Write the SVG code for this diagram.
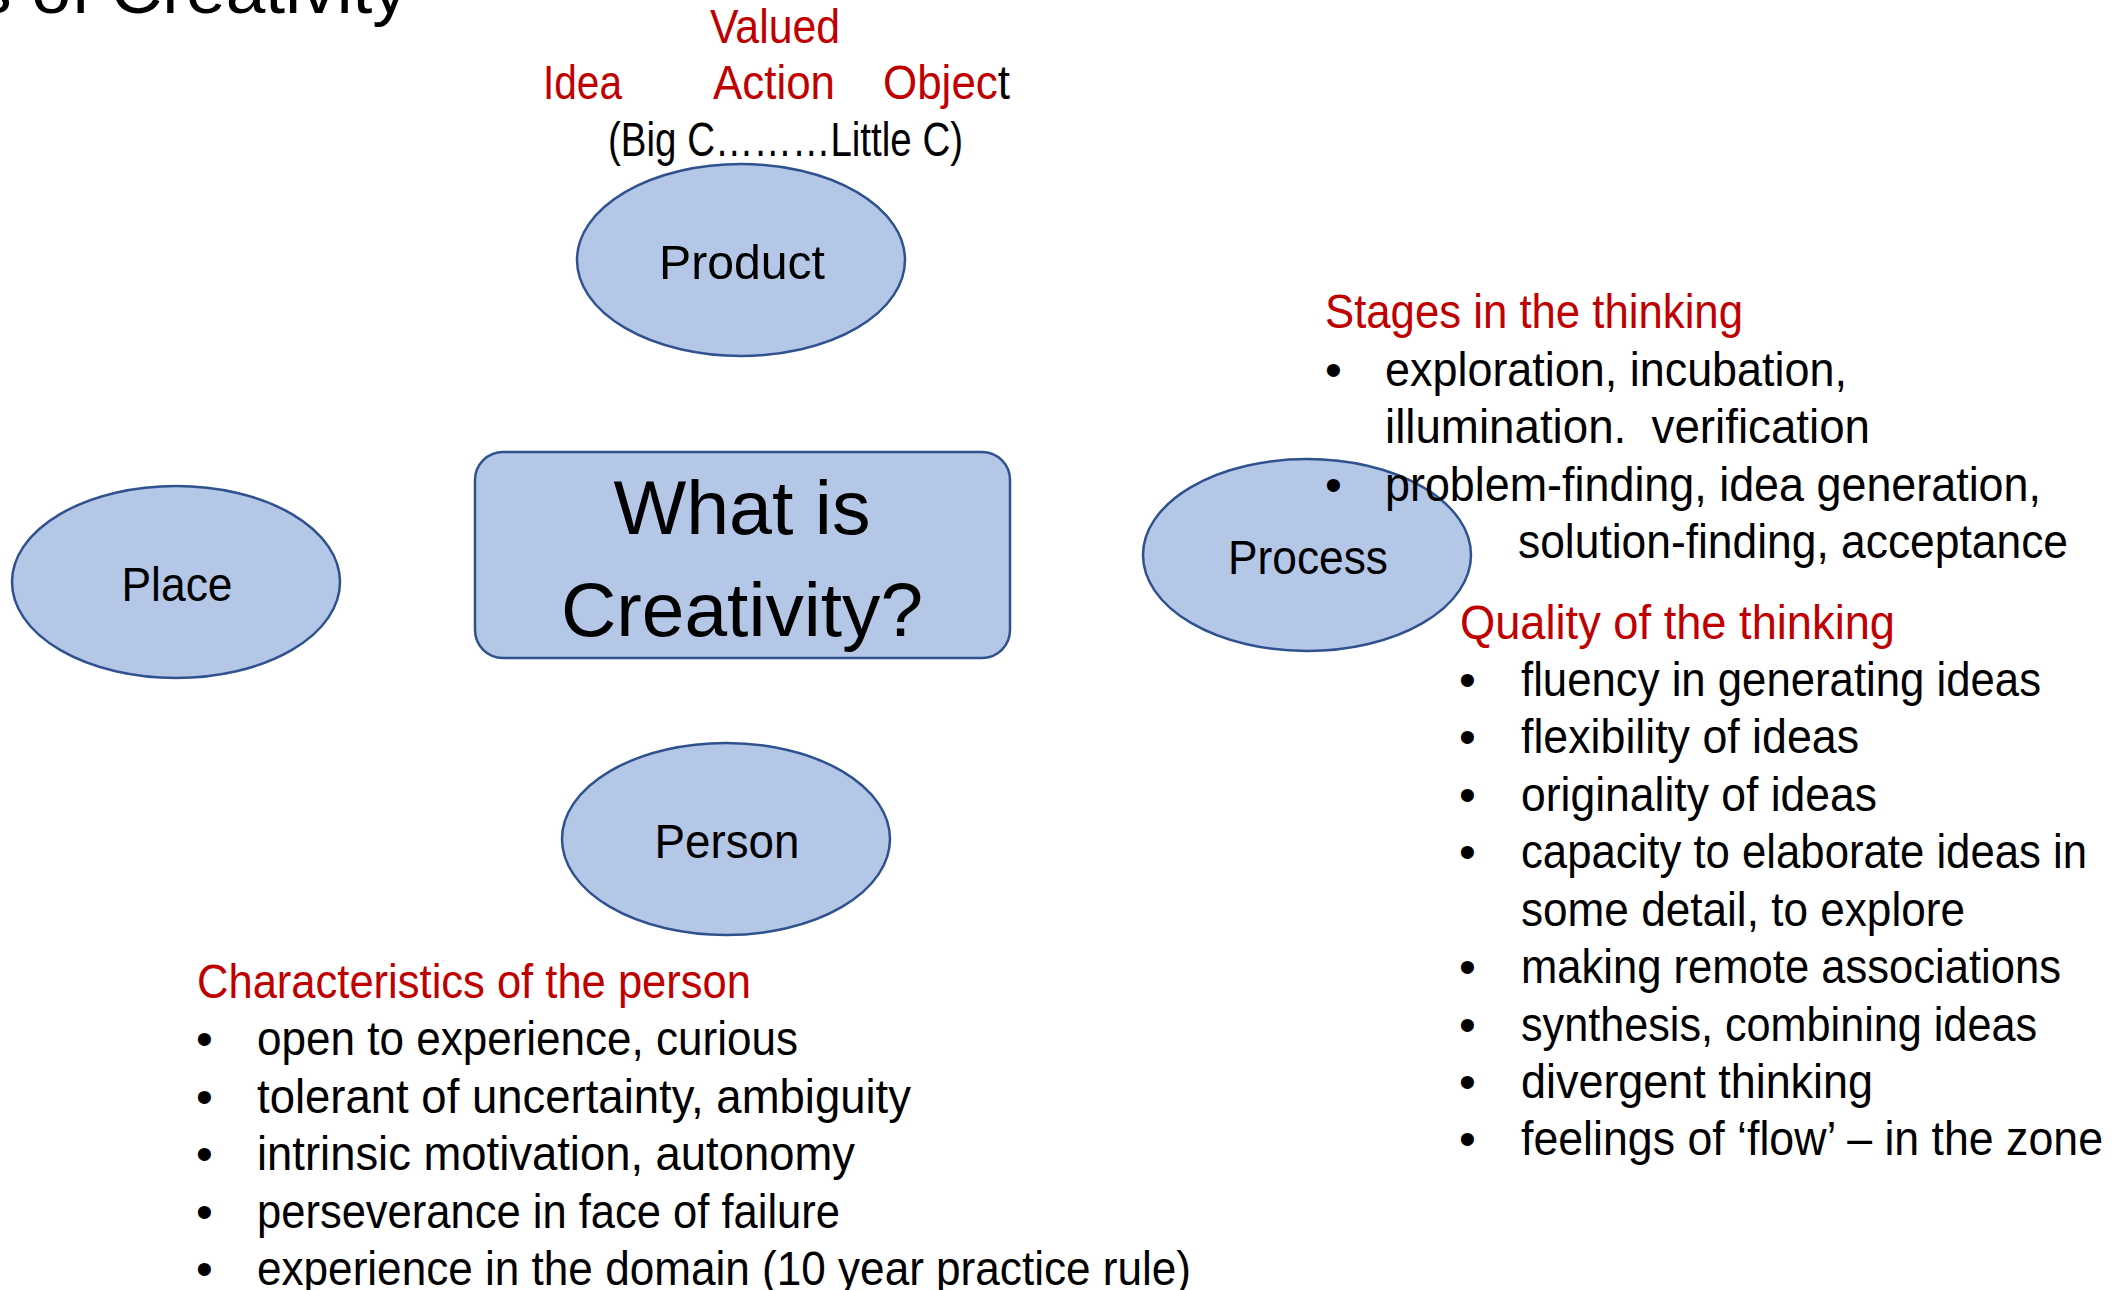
<svg xmlns="http://www.w3.org/2000/svg" width="2125" height="1290" viewBox="0 0 2125 1290">
  <style>
    text { font-family: "Liberation Sans", Arial, "DejaVu Sans", sans-serif; fill: #000000; }
    .body { font-size: 48px; }
    .red { fill: #C00000; }
    .label { font-size: 48px; text-anchor: middle; }
    .big { font-size: 76px; text-anchor: middle; }
    .shape { fill: #B4C7E7; stroke: #2F528F; stroke-width: 2.5; }
  </style>

  <rect x="0" y="0" width="2125" height="1290" fill="#FFFFFF"/>

  <!-- slide title, running off the top edge -->
  <text x="-24" y="13" font-size="69" textLength="432" lengthAdjust="spacingAndGlyphs">s of Creativity</text>

  <!-- no connectors between the nodes -->
  <g id="connectors"></g>

  <g id="node-centre">
    <rect class="shape" x="475" y="452" width="535" height="206" rx="28" ry="28"/>
    <text class="big" x="742" y="534" textLength="257" lengthAdjust="spacingAndGlyphs">What is</text>
    <text class="big" x="742" y="636" textLength="362" lengthAdjust="spacingAndGlyphs">Creativity?</text>
  </g>

  <g id="node-product">
    <ellipse class="shape" cx="741" cy="260" rx="164" ry="96"/>
    <text class="label" x="742" y="279" textLength="166" lengthAdjust="spacingAndGlyphs">Product</text>
  </g>

  <g id="node-place">
    <ellipse class="shape" cx="176" cy="582" rx="164" ry="96"/>
    <text class="label" x="177" y="601" textLength="111" lengthAdjust="spacingAndGlyphs">Place</text>
  </g>

  <g id="node-process">
    <ellipse class="shape" cx="1307" cy="555" rx="164" ry="96"/>
    <text class="label" x="1308" y="574" textLength="160" lengthAdjust="spacingAndGlyphs">Process</text>
  </g>

  <g id="node-person">
    <ellipse class="shape" cx="726" cy="839" rx="164" ry="96"/>
    <text class="label" x="727" y="858" textLength="145" lengthAdjust="spacingAndGlyphs">Person</text>
  </g>

  <!-- product notes -->
  <g id="product-notes" class="body" transform="translate(0,2)">
    <text class="red" x="710" y="41" textLength="130" lengthAdjust="spacingAndGlyphs">Valued</text>
    <text class="red" x="543" y="97" textLength="79" lengthAdjust="spacingAndGlyphs">Idea</text>
    <text class="red" x="713" y="97" textLength="122" lengthAdjust="spacingAndGlyphs">Action</text>
    <text x="883" y="97" textLength="127" lengthAdjust="spacingAndGlyphs"><tspan class="red">Objec</tspan>t</text>
    <text x="608" y="154" textLength="355" lengthAdjust="spacingAndGlyphs">(Big C………Little C)</text>
  </g>

  <!-- process notes -->
  <g id="process-notes" class="body" transform="translate(0,2)">
    <text class="red" x="1325" y="326" textLength="418" lengthAdjust="spacingAndGlyphs">Stages in the thinking</text>
    <text x="1325" y="384">•</text>
    <text x="1385" y="384" textLength="462" lengthAdjust="spacingAndGlyphs">exploration, incubation,</text>
    <text x="1385" y="441" textLength="485" lengthAdjust="spacingAndGlyphs" xml:space="preserve">illumination.  verification</text>
    <text x="1325" y="499">•</text>
    <text x="1385" y="499" textLength="656" lengthAdjust="spacingAndGlyphs">problem-finding, idea generation,</text>
    <text x="1518" y="556" textLength="550" lengthAdjust="spacingAndGlyphs">solution-finding, acceptance</text>

    <text class="red" x="1460" y="637" textLength="435" lengthAdjust="spacingAndGlyphs">Quality of the thinking</text>
    <text x="1459" y="694">•</text>
    <text x="1521" y="694" textLength="520" lengthAdjust="spacingAndGlyphs">fluency in generating ideas</text>
    <text x="1459" y="751">•</text>
    <text x="1521" y="751" textLength="338" lengthAdjust="spacingAndGlyphs">flexibility of ideas</text>
    <text x="1459" y="809">•</text>
    <text x="1521" y="809" textLength="356" lengthAdjust="spacingAndGlyphs">originality of ideas</text>
    <text x="1459" y="866">•</text>
    <text x="1521" y="866" textLength="566" lengthAdjust="spacingAndGlyphs">capacity to elaborate ideas in</text>
    <text x="1521" y="924" textLength="444" lengthAdjust="spacingAndGlyphs">some detail, to explore</text>
    <text x="1459" y="981">•</text>
    <text x="1521" y="981" textLength="540" lengthAdjust="spacingAndGlyphs">making remote associations</text>
    <text x="1459" y="1039">•</text>
    <text x="1521" y="1039" textLength="516" lengthAdjust="spacingAndGlyphs">synthesis, combining ideas</text>
    <text x="1459" y="1096">•</text>
    <text x="1521" y="1096" textLength="352" lengthAdjust="spacingAndGlyphs">divergent thinking</text>
    <text x="1459" y="1153">•</text>
    <text x="1521" y="1153" textLength="582" lengthAdjust="spacingAndGlyphs">feelings of ‘flow’ – in the zone</text>
  </g>

  <!-- person notes -->
  <g id="person-notes" class="body" transform="translate(0,2)">
    <text class="red" x="197" y="996" textLength="554" lengthAdjust="spacingAndGlyphs">Characteristics of the person</text>
    <text x="196" y="1053">•</text>
    <text x="257" y="1053" textLength="541" lengthAdjust="spacingAndGlyphs">open to experience, curious</text>
    <text x="196" y="1111">•</text>
    <text x="257" y="1111" textLength="654" lengthAdjust="spacingAndGlyphs">tolerant of uncertainty, ambiguity</text>
    <text x="196" y="1168">•</text>
    <text x="257" y="1168" textLength="598" lengthAdjust="spacingAndGlyphs">intrinsic motivation, autonomy</text>
    <text x="196" y="1226">•</text>
    <text x="257" y="1226" textLength="583" lengthAdjust="spacingAndGlyphs">perseverance in face of failure</text>
    <text x="196" y="1283">•</text>
    <text x="257" y="1283" textLength="934" lengthAdjust="spacingAndGlyphs">experience in the domain (10 year practice rule)</text>
  </g>
</svg>
